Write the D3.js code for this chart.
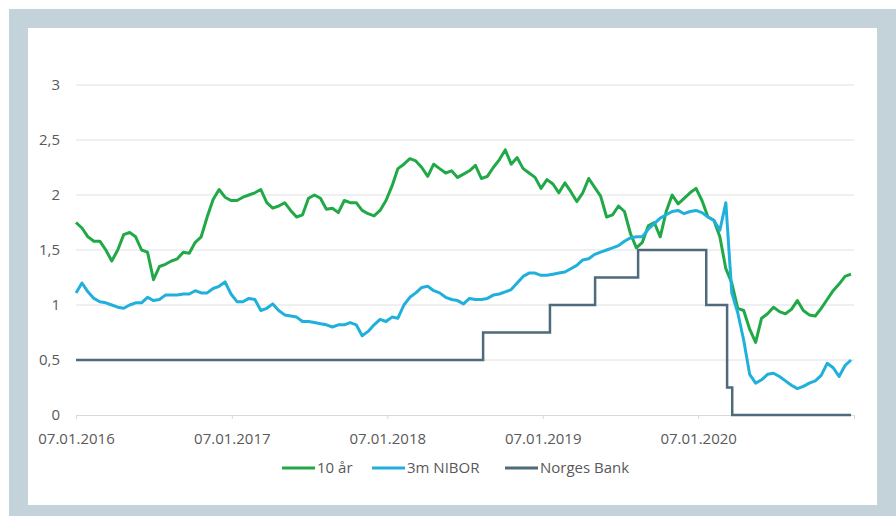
<!DOCTYPE html>
<html>
<head>
<meta charset="utf-8">
<script src="https://cdn.jsdelivr.net/npm/d3@7"></script>
<style>
  body { margin: 0; background: #fff; }
  svg text { font-family: "Open Sans", sans-serif; fill: #595959; }
</style>
</head>
<body>
<div id="chart"></div>
<script>
// Rentes: 10-year, 3m NIBOR, Norges Bank policy rate (two-week samples from 07.01.2016)
const startDate = new Date(2016, 0, 7);
const stepDays = 14;

const tenYear = [
  1.75,1.70,1.62,1.58,1.58,1.50,1.40,1.50,1.64,1.66,1.62,1.50,1.48,1.23,1.35,1.37,1.40,1.42,1.48,1.47,1.57,1.62,1.80,1.96,2.05,1.98,1.95,1.95,
  1.98,2.00,2.02,2.05,1.93,1.88,1.90,1.93,1.86,1.80,1.82,1.97,2.00,1.97,1.87,1.88,1.84,1.95,1.93,1.93,1.86,1.83,1.81,1.86,1.95,2.08,2.24,
  2.28,2.33,2.31,2.25,2.17,2.28,2.24,2.20,2.22,2.16,2.19,2.22,2.27,2.15,2.17,2.25,2.32,2.41,2.28,2.34,2.24,2.20,2.16,2.06,2.14,2.10,2.02,
  2.11,2.03,1.94,2.02,2.15,2.07,1.99,1.80,1.82,1.90,1.85,1.65,1.52,1.57,1.72,1.75,1.62,1.85,2.00,1.92,1.97,2.02,2.06,1.95,1.80,1.77,1.62,
  1.33,1.20,0.97,0.95,0.78,0.66,0.88,0.92,0.98,0.94,0.92,0.96,1.04,0.95,0.91,0.90,0.97,1.05,1.13,1.19,1.26,1.28
];

const nibor3m = [
  1.11,1.20,1.12,1.06,1.03,1.02,1.00,0.98,0.97,1.00,1.02,1.02,1.07,1.04,1.05,1.09,1.09,1.09,1.10,1.10,1.13,1.11,1.11,1.15,1.17,1.21,1.10,1.03,
  1.03,1.06,1.05,0.95,0.97,1.01,0.95,0.91,0.90,0.89,0.85,0.85,0.84,0.83,0.82,0.80,0.82,0.82,0.84,0.82,0.72,0.76,0.82,0.87,0.85,0.89,0.88,
  1.00,1.07,1.11,1.16,1.17,1.13,1.11,1.07,1.05,1.04,1.01,1.06,1.05,1.05,1.06,1.09,1.10,1.12,1.14,1.20,1.26,1.29,1.29,1.27,1.27,1.28,1.29,
  1.30,1.33,1.36,1.41,1.42,1.46,1.48,1.50,1.52,1.54,1.58,1.61,1.62,1.62,1.69,1.74,1.79,1.82,1.85,1.86,1.83,1.85,1.86,1.84,1.80,1.77,1.68,
  1.93,1.11,0.93,0.68,0.37,0.29,0.32,0.37,0.38,0.35,0.31,0.27,0.24,0.26,0.29,0.31,0.36,0.47,0.43,0.35,0.45,0.50
];

// Norges Bank policy rate changes (as placed on the chart's axis)
const nbDates = ["2016-01-07","2018-08-20","2019-01-24","2019-05-10","2019-08-19","2020-01-26","2020-03-15","2020-03-27","2020-12-31"];
const nbRates = [0.5, 0.75, 1.0, 1.25, 1.5, 1.0, 0.25, 0, 0];

const yTicks = [0, 0.5, 1, 1.5, 2, 2.5, 3];
const xTickDates = ["2016-01-07","2017-01-07","2018-01-07","2019-01-07","2020-01-07"];

const seriesNames = ["10 år", "3m NIBOR", "Norges Bank"];
const seriesColors = ["#21a847", "#20b0dc", "#4e6a7b"];

const W = 896, H = 516;
const plot = { left: 76, right: 854, top: 85, bottom: 415 };

const parseDate = d3.timeParse("%Y-%m-%d");
const nbLocale = d3.formatLocale({ decimal: ",", thousands: " ", grouping: [3], currency: ["", " kr"] });
const fmtY = nbLocale.format("~g");

const svg = d3.select("#chart")
    .append("svg")
    .attr("width", W)
    .attr("height", H);

// Frame
svg.append("rect").attr("x", 9).attr("y", 9).attr("width", W - 9).attr("height", H - 9).attr("fill", "#c4d3da");
svg.append("rect").attr("x", 28).attr("y", 28).attr("width", 849).attr("height", 477).attr("fill", "#fff");

const x = d3.scaleTime()
    .domain([startDate, new Date(2021, 0, 7)])
    .range([plot.left, plot.right]);

const y = d3.scaleLinear()
    .domain([0, 3])
    .range([plot.bottom, plot.top]);

// Grid
svg.append("g")
    .selectAll("line")
    .data(yTicks.filter(d => d > 0))
    .enter()
    .append("line")
    .attr("x1", plot.left)
    .attr("x2", plot.right)
    .attr("y1", d => y(d))
    .attr("y2", d => y(d))
    .attr("stroke", "#e0e0e0")
    .attr("stroke-width", 1);

// Y axis labels
const yAxis = svg.append("g")
    .attr("transform", `translate(${plot.left},0)`)
    .call(d3.axisLeft(y).tickValues(yTicks).tickFormat(fmtY).tickSize(0).tickPadding(16));
yAxis.select(".domain").remove();
yAxis.selectAll("text").style("font-size", "15px").attr("fill", "#595959");

// X axis
const xAxis = svg.append("g")
    .attr("transform", `translate(0,${plot.bottom})`)
    .call(d3.axisBottom(x)
        .tickValues(xTickDates.map(parseDate))
        .tickFormat(d3.timeFormat("%d.%m.%Y"))
        .tickSize(4)
        .tickPadding(14));
xAxis.select(".domain").attr("stroke", "#d9d9d9");
xAxis.selectAll(".tick line").attr("stroke", "#d9d9d9");
xAxis.selectAll("text").style("font-size", "15px").attr("fill", "#595959");

// Lines
const dateAt = i => d3.timeDay.offset(startDate, i * stepDays);

const line = d3.line()
    .x((d, i) => x(dateAt(i)))
    .y(d => y(d));

svg.append("path")
    .datum(tenYear)
    .attr("d", line)
    .attr("fill", "none")
    .attr("stroke", seriesColors[0])
    .attr("stroke-width", 3)
    .attr("stroke-linejoin", "round");

svg.append("path")
    .datum(nibor3m)
    .attr("d", line)
    .attr("fill", "none")
    .attr("stroke", seriesColors[1])
    .attr("stroke-width", 3)
    .attr("stroke-linejoin", "round");

const stepLine = d3.line()
    .x((d, i) => x(parseDate(nbDates[i])))
    .y(d => y(d))
    .curve(d3.curveStepAfter);

svg.append("path")
    .datum(nbRates)
    .attr("d", stepLine)
    .attr("fill", "none")
    .attr("stroke", seriesColors[2])
    .attr("stroke-width", 2.5);

// Legend
const legendX = [282, 372, 505];
const legendY = 468;
const legend = svg.append("g");
seriesNames.forEach((name, i) => {
    legend.append("line")
        .attr("x1", legendX[i])
        .attr("x2", legendX[i] + 33)
        .attr("y1", legendY)
        .attr("y2", legendY)
        .attr("stroke", seriesColors[i])
        .attr("stroke-width", 3);
    legend.append("text")
        .attr("x", legendX[i] + 35)
        .attr("y", legendY)
        .attr("dy", "0.35em")
        .style("font-size", "15px")
        .text(name);
});
</script>
</body>
</html>
